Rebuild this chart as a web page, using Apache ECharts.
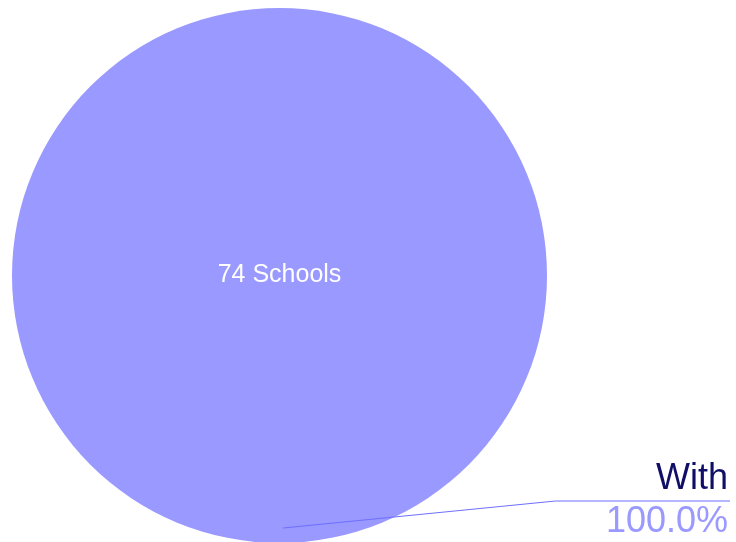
<!DOCTYPE html>
<html>
<head>
<meta charset="utf-8">
<script src="https://cdn.jsdelivr.net/npm/echarts@6/dist/echarts.min.js"></script>
<style>
  html, body { margin: 0; padding: 0; background: #ffffff; }
  #chart { width: 736px; height: 542px; }
</style>
</head>
<body>
<div id="chart"></div>
<script>
// Schools by status
const categories = ['With'];
const schoolCounts = [74];
const centerLabelSuffix = ' Schools';

const CX = 279.5, CY = 275.5, R = 267.5;
const FONT = '"Liberation Sans", Arial, sans-serif';

const pieData = categories.map((name, i) => ({ name, value: schoolCounts[i] }));

const chart = echarts.init(document.getElementById('chart'), null, { renderer: 'canvas' });

chart.setOption({
  animation: false,
  backgroundColor: '#ffffff',
  series: [
    {
      // filled pie with the count in the middle
      type: 'pie',
      z: 2,
      center: [CX, CY],
      radius: R,
      startAngle: 90,
      silent: true,
      avoidLabelOverlap: false,
      itemStyle: { color: '#9999ff', borderWidth: 0 },
      label: {
        show: true,
        position: 'center',
        formatter: p => p.value + centerLabelSuffix,
        color: '#ffffff',
        fontFamily: FONT,
        fontSize: 25
      },
      labelLine: { show: false },
      data: pieData
    },
    {
      // overlay carrying the category / percentage call-out
      type: 'pie',
      z: 10,
      center: [CX, CY],
      radius: R,
      startAngle: 90,
      silent: true,
      avoidLabelOverlap: false,
      itemStyle: { color: 'rgba(0,0,0,0)', borderWidth: 0 },
      label: {
        show: true,
        position: 'outside',
        formatter: p => '{a|' + p.name + '}\n{b|' + p.percent.toFixed(1) + '%}',
        rich: {
          a: { fontFamily: FONT, fontSize: 36, color: '#0f0f68', lineHeight: 43, align: 'right' },
          b: { fontFamily: FONT, fontSize: 36, color: '#9999ff', lineHeight: 43, align: 'right' }
        }
      },
      labelLine: {
        show: true,
        lineStyle: { color: '#6f6fff', width: 1 }
      },
      labelLayout: function () {
        const w = chart.getWidth();
        const right = w - 6;
        const lineY = CY + 225.5;
        return {
          x: right - 2,
          y: lineY,
          align: 'right',
          verticalAlign: 'middle',
          labelLinePoints: [
            [CX + 3.5, CY + R * 0.944],
            [CX + 276, lineY],
            [right, lineY]
          ]
        };
      },
      data: pieData
    }
  ]
});
</script>
</body>
</html>
